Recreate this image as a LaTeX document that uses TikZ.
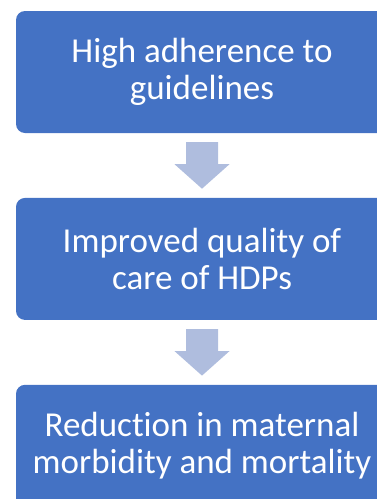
\documentclass[tikz,border=0pt]{standalone}
\usepackage{fontspec}
\setmainfont[Ligatures=NoCommon]{Carlito}
\usetikzlibrary{calc,positioning}
\definecolor{boxblue}{HTML}{4472C4}
\definecolor{arrowblue}{RGB}{175,189,222}
\newcommand{\flowarrow}[2]{%
\fill[arrowblue] ($(#1.south)+(-16,9)$) -- ($(#1.south)+(16,9)$) -- ($(#1.south)+(16,31)$)
  -- ($(#1.south)+(27.5,31)$) -- ($(#2.north)+(0,-9)$) -- ($(#1.south)+(-27.5,31)$)
  -- ($(#1.south)+(-16,31)$) -- cycle;}

\begin{document}
\begin{tikzpicture}[x=1pt,y=-1pt,
  stage/.style={fill=boxblue,rounded corners=9pt,minimum width=372pt,minimum height=122pt,
    text=white,align=center,font=\fontsize{35}{37}\selectfont,inner sep=0pt},
  node distance=64.5pt]
\useasboundingbox (0,0) rectangle (377,499);
\node[stage] (adherence) at (202,72) {High adherence to\\guidelines};
\node[stage,below=of adherence] (quality) {Improved quality of \\care of HDPs};
\node[stage,below=of quality] (reduction) {Reduction in maternal\\morbidity and mortality};
\flowarrow{adherence}{quality}
\flowarrow{quality}{reduction}
\end{tikzpicture}
\end{document}
